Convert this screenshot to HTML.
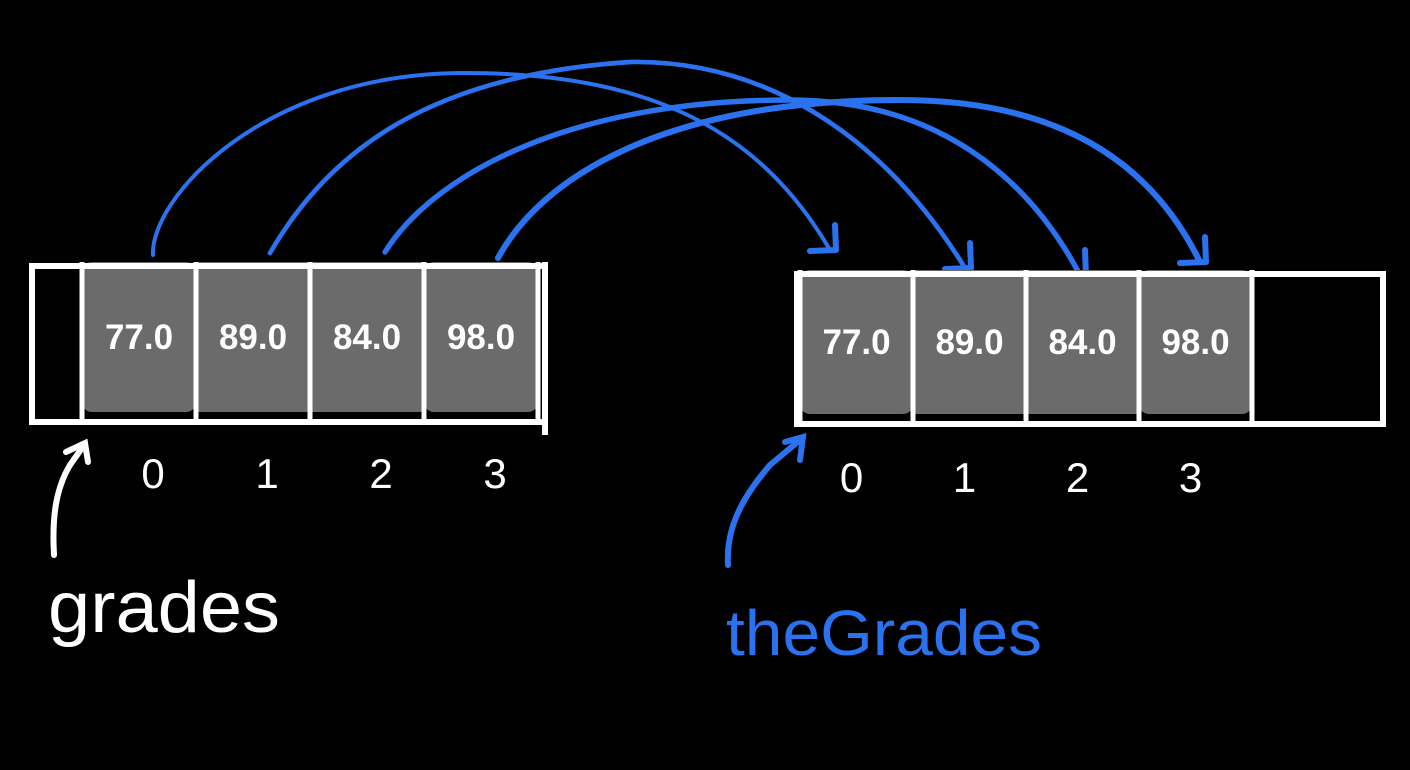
<!DOCTYPE html>
<html><head><meta charset="utf-8">
<style>
html,body{margin:0;padding:0;background:#000;}
svg{display:block;}
text{font-family:"Liberation Sans",sans-serif;}
</style></head>
<body>
<svg id="diagram" width="1410" height="770" viewBox="0 0 1410 770">
  <rect x="0" y="0" width="1410" height="770" fill="#000"/>
  <g id="arcs"></g>
  <g id="left"></g>
  <g id="right"></g>
  <line x1="545" y1="262" x2="545" y2="435" stroke="#fff" stroke-width="6"/>
  <path d="M54,555 C52,520 55,490 70,465 L82,448 M66,452 L85,443 L88,462" fill="none" stroke="#fff" stroke-width="6" stroke-linecap="round"/>
  <text x="48" y="632" fill="#fff" font-size="72" textLength="232" lengthAdjust="spacingAndGlyphs">grades</text>
  <path d="M728,565 C726,530 740,500 770,465 L800,440 M785,442 L803,437 L800,460" fill="none" stroke="#2a72f0" stroke-width="6" stroke-linecap="round"/>
  <text x="726" y="655" fill="#2a72f0" font-size="64" textLength="316" lengthAdjust="spacingAndGlyphs">theGrades</text>
</svg>
<script>
const values = ["77.0","89.0","84.0","98.0"];
const indices = ["0","1","2","3"];
const NS="http://www.w3.org/2000/svg";
function mk(tag,attrs,parent){const e=document.createElementNS(NS,tag);for(const k in attrs)e.setAttribute(k,attrs[k]);parent.appendChild(e);return e;}

function drawArray(g, outerX0, outerX1, cellX0, cellW, top, bottom, idxY, idxOff){
  for(let i=0;i<values.length;i++){
    const x=cellX0+i*cellW;
    const r=mk('rect',{x:x,y:top,width:cellW,height:bottom-top,fill:'#6b6b6b',rx:i===0||i===values.length-1?10:0},g);
    
    
    const t=mk('text',{x:x+cellW/2,y:(top+bottom)/2+12,fill:'#fff','font-size':35,'font-weight':'bold','text-anchor':'middle'},g);
    t.textContent=values[i];
    
    
    const ix=mk('text',{x:x+cellW/2+idxOff,y:idxY,fill:'#fff','font-size':42,'text-anchor':'middle'},g);
    ix.textContent=indices[i];
    
    
  }
  const o=mk('rect',{x:outerX0,y:top+4,width:outerX1-outerX0,height:bottom-top+6,fill:'none',stroke:'#fff','stroke-width':6},g);
  
  
  for(let i=0;i<=values.length;i++){
    const x=cellX0+i*cellW;
    const l=mk('line',{x1:x,y1:top,x2:x,y2:bottom+8,stroke:'#fff','stroke-width':5},g);
    
    
  }
}
drawArray(document.getElementById('left'),32,545,82,114,262,412,488,14);
drawArray(document.getElementById('right'),797,1383,800,113,270,414,492,-5);

const arcPaths=[
 "M153,255 C150,200 260,75 460,73 C650,72 760,130 830,250",
 "M270,253 C330,150 430,75 630,62 C760,60 880,130 965,268",
 "M385,252 C430,180 560,100 790,100 C940,100 1030,180 1080,275",
 "M498,258 C540,180 660,100 900,100 C1080,100 1160,180 1200,262"
];
const heads=[[830,250],[965,268],[1080,275],[1200,262]];
const ag=document.getElementById('arcs');
arcPaths.forEach((d,i)=>{
  const p=mk('path',{d:d,fill:'none',stroke:'#2a72f0','stroke-width':4+i*0.7,'stroke-linecap':'round'},ag);
  
  
  const [hx,hy]=heads[i];
  const h=mk('path',{d:`M${hx+5},${hy-25} L${hx+6},${hy} L${hx-20},${hy+1}`,fill:'none',stroke:'#2a72f0','stroke-width':6,'stroke-linecap':'round','stroke-linejoin':'round'},ag);
  
  
});
</script>
</body></html>
